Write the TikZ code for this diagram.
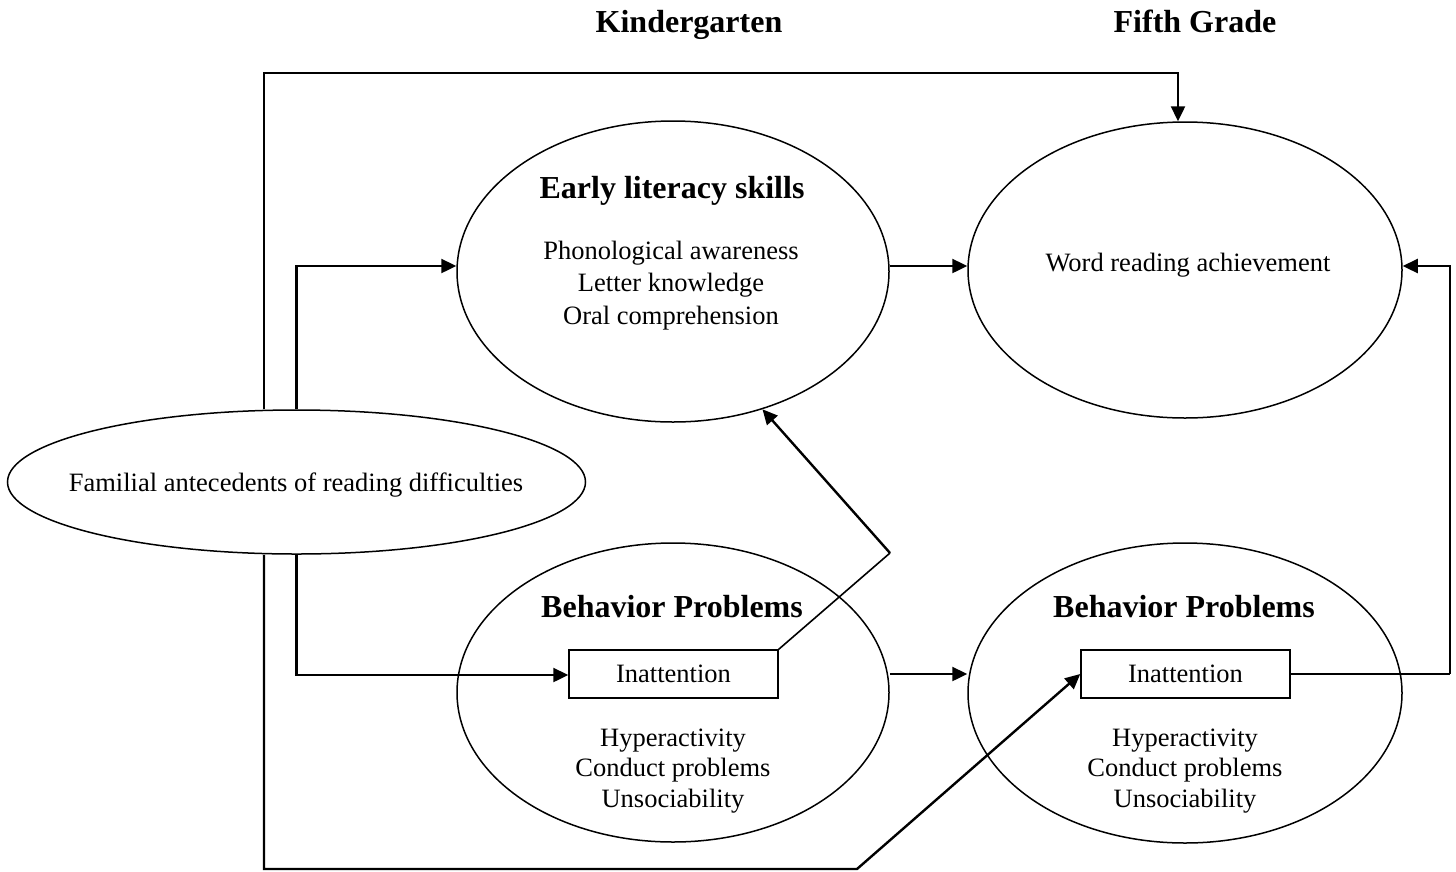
\documentclass[tikz,border=0pt]{standalone}
\usepackage{fontspec}
\setmainfont{Liberation Serif}
\usetikzlibrary{shapes.geometric,arrows.meta}
\begin{document}
\begin{tikzpicture}[x=1pt,y=-1pt,
  oval/.style={ellipse, draw, line width=1.5pt, inner sep=0pt},
  boxnode/.style={draw, line width=1.5pt, minimum width=209pt, minimum height=48pt, inner sep=0pt, font=\fontsize{26.5}{30}\selectfont},
  head/.style={font=\fontsize{32}{36}\selectfont\bfseries, inner sep=0pt, anchor=base},
  body/.style={font=\fontsize{26.5}{32.4}\selectfont, inner sep=0pt, anchor=base, align=center},
  behlist/.style={font=\fontsize{26.5}{30.8}\selectfont},
  conn/.style={line width=2.4pt, -{Triangle[length=15pt,width=14pt]}},
  lightline/.style={line width=1.6pt}]
\useasboundingbox (0,0) rectangle (1456,871);

% titles
\node[head] (kg) at (689,32) {Kindergarten};
\node[head] (fg) at (1195,32) {Fifth Grade};

% ellipses
\node[oval, minimum width=432pt, minimum height=301pt] (elit) at (673,271.5) {};
\node[oval, minimum width=434pt, minimum height=296pt] (wr) at (1185,270) {};
\node[oval, minimum width=432pt, minimum height=299pt] (bk) at (673,692.5) {};
\node[oval, minimum width=434pt, minimum height=300pt] (b5) at (1185,693) {};
\node[oval, minimum width=578pt, minimum height=144pt] (fam) at (296.5,482) {};

% boxes
\node[boxnode] (ik) at (673.5,674) {Inattention};
\node[boxnode] (i5) at (1185.5,674) {Inattention};

% texts
\node[head] (elh) at (672,198) {Early literacy skills};
\node[body] (ell) at (671,324.3) {Phonological awareness\\Letter knowledge\\Oral comprehension};
\node[body] (wrt) at (1188,271) {Word reading achievement};
\node[body] (famt) at (296,491.7) {Familial antecedents of reading difficulties};
\node[head] (bkh) at (672,617) {Behavior Problems};
\node[body, behlist] (bkl) at (673,807.7) {Hyperactivity\\Conduct problems\\Unsociability};
\node[head] (b5h) at (1184,617) {Behavior Problems};
\node[body, behlist] (b5l) at (1185,807.7) {Hyperactivity\\Conduct problems\\Unsociability};

% helper coordinates
\coordinate (tl) at (264,73);
\coordinate (tr) at (1178,73);
\coordinate (el) at (296.5,266);
\coordinate (rr) at (1450,266);
\coordinate (fb) at (296.5,675);
\coordinate (bl) at (264,869);
\coordinate (bm) at (857,869);
\coordinate (kink) at (890,553);

% connectors
\draw[conn] (fam.north -| tl) -- (tl) -- (tr) -- (tr |- wr.north);
\draw[conn] (fam.north) -- (el) -- (el -| elit.west);
\draw[conn] (elit.east |- el) -- (wr.west |- el);
\draw[lightline] (i5.east) -- (i5.east -| rr);
\draw[conn] (i5.east -| rr) -- (rr) -- (wr.east |- rr);
\draw[conn] (bk.east |- ik) -- (b5.west |- ik);
\draw[conn] (fam.south) -- (fb) -- (ik.west |- fb);
\draw[conn] (fam.south -| bl) -- (bl) -- (bm) -- (i5.west);
\draw[lightline] (ik.north east) -- (kink);
\draw[conn] (kink) -- (elit.-57);
\end{tikzpicture}
\end{document}
